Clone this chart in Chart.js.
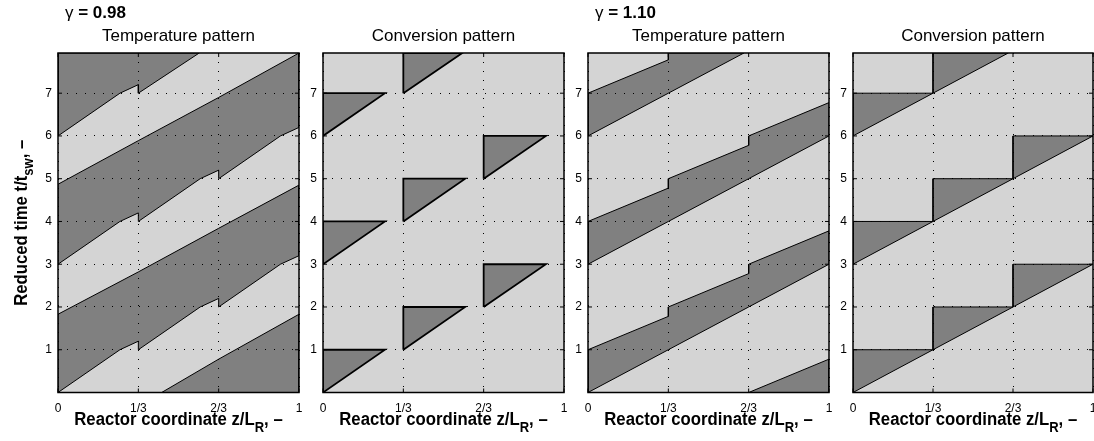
<!DOCTYPE html>
<html>
<head>
<meta charset="utf-8">
<script src="https://cdn.jsdelivr.net/npm/chart.js@4"></script>
<style>
  body { margin: 0; background: #fff; overflow: hidden; }
  #wrap { position: relative; width: 1094px; height: 441px; }
  #wrap canvas { position: absolute; left: 0; top: 0; }
</style>
</head>
<body>
<div id="wrap">
  <canvas id="p1" width="1094" height="441"></canvas>
  <canvas id="p2" width="1094" height="441"></canvas>
  <canvas id="p3" width="1094" height="441"></canvas>
  <canvas id="p4" width="1094" height="441"></canvas>
</div>
<script>
const Z_TICKS = [0, 1 / 3, 2 / 3, 1];
const Z_LABELS = ['0', '1/3', '2/3', '1'];
const T_TICKS = [1, 2, 3, 4, 5, 6, 7];
const T_MAX = 7.94;

// hot zones, gamma = 0.98  [z/L, t/tsw]
const tempLow = [
  [[0, 6], [0.257, 7], [1 / 3, 7.2], [1 / 3, 7], [0.586, 7.94], [0, 7.94]],
  [[0, 4.87], [1 / 3, 5.89], [2 / 3, 6.9], [1, 7.94], [1, 6.2], [0.923, 6], [2 / 3, 5], [2 / 3, 5.2], [0.59, 5], [1 / 3, 4], [1 / 3, 4.2], [0.257, 4], [0, 3]],
  [[0, 1.83], [1 / 3, 2.82], [2 / 3, 3.84], [1, 4.85], [1, 3.2], [0.923, 3], [2 / 3, 2], [2 / 3, 2.2], [0.59, 2], [1 / 3, 1], [1 / 3, 1.2], [0.257, 1], [0, 0]],
  [[0.43, 0], [2 / 3, 0.78], [1, 1.83], [1, 0]]
];

// converted zones, gamma = 0.98
const convLow = [
  [[0, 0], [0.257, 1], [0, 1]],
  [[1 / 3, 1], [0.59, 2], [1 / 3, 2]],
  [[2 / 3, 2], [0.925, 3], [2 / 3, 3]],
  [[0, 3], [0.257, 4], [0, 4]],
  [[1 / 3, 4], [0.59, 5], [1 / 3, 5]],
  [[2 / 3, 5], [0.925, 6], [2 / 3, 6]],
  [[0, 6], [0.257, 7], [0, 7]],
  [[1 / 3, 7], [0.578, 7.94], [1 / 3, 7.94]]
];

// hot zones, gamma = 1.10
const tempHigh = [
  [[2 / 3, 0], [1, 0.78], [1, 0]],
  [[0, 0], [1 / 3, 1], [2 / 3, 2], [1, 3], [1, 3.78], [2 / 3, 3], [2 / 3, 2.78], [1 / 3, 2], [1 / 3, 1.78], [0, 1]],
  [[0, 3], [1 / 3, 4], [2 / 3, 5], [1, 6], [1, 6.78], [2 / 3, 6], [2 / 3, 5.78], [1 / 3, 5], [1 / 3, 4.78], [0, 4]],
  [[0, 6], [1 / 3, 7], [0.647, 7.94], [1 / 3, 7.94], [1 / 3, 7.78], [0, 7]]
];

// converted zones, gamma = 1.10
const convHigh = [
  [[0, 0], [1 / 3, 1], [0, 1]],
  [[1 / 3, 1], [2 / 3, 2], [1 / 3, 2]],
  [[2 / 3, 2], [1, 3], [2 / 3, 3]],
  [[0, 3], [1 / 3, 4], [0, 4]],
  [[1 / 3, 4], [2 / 3, 5], [1 / 3, 5]],
  [[2 / 3, 5], [1, 6], [2 / 3, 6]],
  [[0, 6], [1 / 3, 7], [0, 7]],
  [[1 / 3, 7], [0.647, 7.94], [1 / 3, 7.94]]
];

const DARK = '#808080';
const LIGHT = '#d4d4d4';
const FAMILY = '"Liberation Sans", Arial, Helvetica, sans-serif';
const BOLD_MAIN = 'bold 18px ' + FAMILY;
const BOLD_SUB = 'bold 14px ' + FAMILY;

Chart.defaults.font.family = FAMILY;
Chart.defaults.color = '#000';

const panels = [
  {id: 'p1', left: 58, title: 'Temperature pattern', zones: tempLow, edge: 1, gamma: '0.98', yTitle: true},
  {id: 'p2', left: 323, title: 'Conversion pattern', zones: convLow, edge: 1.8},
  {id: 'p3', left: 588, title: 'Temperature pattern', zones: tempHigh, edge: 1, gamma: '1.10'},
  {id: 'p4', left: 853, title: 'Conversion pattern', zones: convHigh, edge: 1}
];

// text run with sub/normal parts, centred on x, squeezed horizontally
function drawRun(ctx, parts, x, y, squeeze) {
  ctx.save();
  ctx.translate(x, y);
  ctx.scale(squeeze, 1);
  let w = 0;
  for (const [txt, font] of parts) { ctx.font = font; w += ctx.measureText(txt).width; }
  let cx = -w / 2;
  for (const [txt, font, dy] of parts) {
    ctx.font = font;
    ctx.fillText(txt, cx, dy);
    cx += ctx.measureText(txt).width;
  }
  ctx.restore();
}

const frame = {
  id: 'frame',
  beforeDatasetsDraw(chart) {
    const {ctx, chartArea: a} = chart;
    ctx.save();
    ctx.fillStyle = LIGHT;
    ctx.fillRect(a.left, a.top, a.right - a.left, a.bottom - a.top);
    ctx.restore();
  },
  afterDraw(chart, args, opts) {
    const {ctx, chartArea: a, scales: {x, y}} = chart;
    ctx.save();
    ctx.strokeStyle = '#000';
    ctx.lineWidth = 1;
    ctx.beginPath();
    for (const v of Z_TICKS) {
      const px = x.getPixelForValue(v);
      ctx.moveTo(px, a.bottom); ctx.lineTo(px, a.bottom - 4);
      ctx.moveTo(px, a.top); ctx.lineTo(px, a.top + 4);
    }
    for (const v of T_TICKS) {
      const py = y.getPixelForValue(v);
      ctx.moveTo(a.left, py); ctx.lineTo(a.left + 4, py);
      ctx.moveTo(a.right, py); ctx.lineTo(a.right - 4, py);
    }
    ctx.stroke();
    ctx.lineWidth = 1.5;
    ctx.strokeRect(a.left, a.top, a.right - a.left, a.bottom - a.top);

    ctx.fillStyle = '#000';
    ctx.textBaseline = 'alphabetic';
    drawRun(ctx, [
      ['Reactor coordinate z/L', BOLD_MAIN, 0],
      ['R', BOLD_SUB, 7],
      [', \u2013', BOLD_MAIN, 0]
    ], (a.left + a.right) / 2, 425, 0.93);

    if (opts.gamma) {
      ctx.textAlign = 'left';
      ctx.font = '17px ' + FAMILY;
      ctx.fillText('\u03b3', a.left + 7, 18);
      const gw = ctx.measureText('\u03b3').width;
      ctx.font = 'bold 17px ' + FAMILY;
      ctx.fillText(' = ' + opts.gamma, a.left + 7 + gw, 18);
    }

    if (opts.yTitle) {
      ctx.save();
      ctx.translate(27, (a.top + a.bottom) / 2);
      ctx.rotate(-Math.PI / 2);
      drawRun(ctx, [
        ['Reduced time t/t', BOLD_MAIN, 0],
        ['sw', BOLD_SUB, 6],
        [', \u2013', BOLD_MAIN, 0]
      ], 0, 0, 0.93);
      ctx.restore();
    }
    ctx.restore();
  }
};

for (const p of panels) {
  const width = Math.min(241, 1093 - p.left);
  new Chart(document.getElementById(p.id), {
    type: 'line',
    data: {
      datasets: p.zones.map(zone => ({
        data: zone.concat([zone[0]]).map(([z, t]) => ({x: z, y: t})),
        fill: 'shape',
        backgroundColor: DARK,
        borderColor: '#000',
        borderWidth: p.edge,
        borderJoinStyle: 'miter',
        pointRadius: 0,
        tension: 0
      }))
    },
    options: {
      responsive: false,
      animation: false,
      events: [],
      layout: {
        padding: {left: p.left - 30, right: 1094 - p.left - width, top: 0, bottom: 28.5}
      },
      scales: {
        x: {
          type: 'linear', min: 0, max: 1,
          afterBuildTicks: s => { s.ticks = Z_TICKS.map(v => ({value: v})); },
          afterFit: s => { s.height = 20; s.paddingLeft = 0; s.paddingRight = 0; },
          ticks: {callback: (v, i) => Z_LABELS[i], font: {size: 12}, padding: 9, maxRotation: 0, autoSkip: false},
          grid: {color: '#000', lineWidth: 1, drawTicks: false, z: 1},
          border: {display: false, dash: [1, 8]}
        },
        y: {
          type: 'linear', min: 0, max: T_MAX,
          afterBuildTicks: s => { s.ticks = T_TICKS.map(v => ({value: v})); },
          afterFit: s => { s.width = 30; s.paddingTop = 0; s.paddingBottom = 0; },
          ticks: {font: {size: 12}, padding: 6},
          grid: {color: '#000', lineWidth: 1, drawTicks: false, z: 1},
          border: {display: false, dash: [1, 8]}
        }
      },
      plugins: {
        legend: {display: false},
        tooltip: {enabled: false},
        title: {
          display: true, text: p.title, fullSize: false,
          font: {size: 17, weight: 'normal'}, color: '#000',
          padding: {top: 26.5, bottom: 6.1}
        },
        frame: {gamma: p.gamma, yTitle: p.yTitle}
      }
    },
    plugins: [frame]
  });
}
</script>
</body>
</html>
